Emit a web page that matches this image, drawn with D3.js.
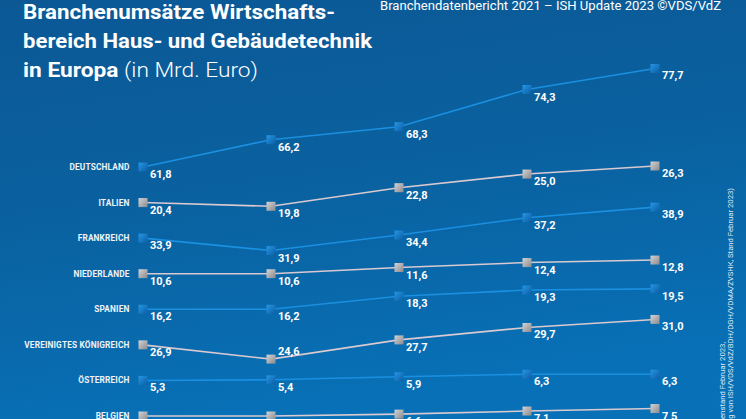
<!DOCTYPE html>
<html><head><meta charset="utf-8">
<script src="https://cdn.jsdelivr.net/npm/d3@7"></script>
<style>html,body{margin:0;padding:0;overflow:hidden;background:#0b5e9e}svg{display:block}</style>
</head><body>
<script>
// ---- data ----
const years = ["2018", "2019", "2020", "2021", "2022"];
const countries = ["Deutschland", "Italien", "Frankreich", "Niederlande", "Spanien", "Vereinigtes Königreich", "Österreich", "Belgien"];
const deutschland = [61.8, 66.2, 68.3, 74.3, 77.7];
const italien = [20.4, 19.8, 22.8, 25.0, 26.3];
const frankreich = [33.9, 31.9, 34.4, 37.2, 38.9];
const niederlande = [10.6, 10.6, 11.6, 12.4, 12.8];
const spanien = [16.2, 16.2, 18.3, 19.3, 19.5];
const vereinigtesKoenigreich = [26.9, 24.6, 27.7, 29.7, 31.0];
const oesterreich = [5.3, 5.4, 5.9, 6.3, 6.3];
const belgien = [6.3, 6.3, 6.6, 7.1, 7.5];
const seriesValues = [deutschland, italien, frankreich, niederlande, spanien, vereinigtesKoenigreich, oesterreich, belgien];

const titleLines = ["Branchenumsätze Wirtschafts-", "bereich Haus- und Gebäudetechnik"];
const titleBold3 = "in Europa";
const titleLight3 = " (in Mrd. Euro)";
const sourceTop = "Branchendatenbericht 2021 – ISH Update 2023 ©VDS/VdZ";
const sideNote1 = "Quelle: VDS/VdZ Branchendatenbericht, Datenstand Februar 2023,";
const sideNote2 = "(Hochrechnung von ISH/VDS/VdZ/BDH/DGH/VDMA/ZVSHK, Stand Februar 2023)";

// ---- setup ----
const W = 746, H = 419;
const svg = d3.select("body").append("svg").attr("width", W).attr("height", H)
  .style("font-family", "Roboto, 'Noto Sans', sans-serif");
const defs = svg.append("defs");

const bg = defs.append("linearGradient").attr("id", "bg").attr("x1", 0).attr("y1", 0).attr("x2", 0.25).attr("y2", 1);
bg.append("stop").attr("offset", 0).attr("stop-color", "#0b5895");
bg.append("stop").attr("offset", 0.5).attr("stop-color", "#0a619f");
bg.append("stop").attr("offset", 1).attr("stop-color", "#0870b6");
svg.append("rect").attr("width", W).attr("height", H).attr("fill", "url(#bg)");

const gb = defs.append("linearGradient").attr("id", "mBlue").attr("x1", 0).attr("y1", 0).attr("x2", 1).attr("y2", 1);
gb.append("stop").attr("offset", 0).attr("stop-color", "#2796e4");
gb.append("stop").attr("offset", 1).attr("stop-color", "#0b5ea6");
const gg = defs.append("linearGradient").attr("id", "mGrey").attr("x1", 0).attr("y1", 0).attr("x2", 1).attr("y2", 1);
gg.append("stop").attr("offset", 0).attr("stop-color", "#d4d4d6");
gg.append("stop").attr("offset", 1).attr("stop-color", "#8a8a8e");

const locale = d3.formatLocale({decimal: ",", thousands: ".", grouping: [3], currency: ["", " €"]});
const fmt = locale.format(".1f");

// scales
const x = d3.scalePoint().domain(years).range([143, 655]);
const rowY = d3.scalePoint().domain(countries).range([167, 416]);
const dy = d3.scaleLinear().domain([0, 10]).range([0, -62]);

const style = i => i % 2 === 0
  ? {line: "#1b8fe0", fill: "url(#mBlue)"}
  : {line: "#d9c9d0", fill: "url(#mGrey)"};

// ---- title ----
const tl = svg.append("g").attr("fill", "#fff");
tl.append("text").attr("x", 23).attr("y", 19).attr("font-size", 21).attr("font-weight", 700)
  .attr("textLength", 312).attr("lengthAdjust", "spacingAndGlyphs").text(titleLines[0]);
tl.append("text").attr("x", 23).attr("y", 48).attr("font-size", 21).attr("font-weight", 700)
  .attr("textLength", 349).attr("lengthAdjust", "spacingAndGlyphs").text(titleLines[1]);
const t3 = tl.append("text").attr("x", 23).attr("y", 77).attr("font-size", 21)
  .attr("textLength", 235).attr("lengthAdjust", "spacingAndGlyphs");
t3.append("tspan").attr("font-weight", 700).text(titleBold3);
t3.append("tspan").attr("font-weight", 300).text(titleLight3);

svg.append("text").attr("x", 380).attr("y", 10).attr("font-size", 12.5).attr("fill", "#fff")
  .attr("textLength", 341).attr("lengthAdjust", "spacingAndGlyphs").text(sourceTop);

// ---- side notes (rotated, partly cut at bottom as in the original) ----
function sideNote(txt, visibleLen, bx, endY, visiblePart) {
  const probe = svg.append("text").attr("font-size", 10).text(visiblePart);
  const w = probe.node().getComputedTextLength();
  probe.remove();
  const fs = 10 * visibleLen / w;
  svg.append("text")
    .attr("transform", `translate(${bx},${endY}) rotate(-90)`)
    .attr("text-anchor", "end").attr("font-size", fs).attr("fill", "#dfe8f2")
    .text(txt);
}
sideNote(sideNote1, 77, 724.5, 342, "enstand Februar 2023,");
sideNote(sideNote2, 231, 733, 188, "g von ISH/VDS/VdZ/BDH/DGH/VDMA/ZVSHK, Stand Februar 2023)");

// ---- rows ----
const ms = 9;
countries.forEach((c, i) => {
  const vals = seriesValues[i];
  const base = rowY(c);
  const pts = vals.map((v, j) => ({v, j, cx: x(years[j]), cy: base + dy(v - vals[0])}));
  const st = style(i);
  const g = svg.append("g");

  g.append("text").attr("x", 129.5).attr("y", base + 3).attr("text-anchor", "end")
    .attr("font-size", 8.3).attr("font-weight", 700).attr("letter-spacing", 0.15)
    .attr("fill", "#eef3f8").text(c.toUpperCase());

  g.append("path").datum(pts)
    .attr("d", d3.line().x(d => d.cx).y(d => d.cy))
    .attr("fill", "none").attr("stroke", st.line).attr("stroke-width", 1.6);

  g.selectAll("rect").data(pts).join("rect")
    .attr("x", d => d.cx - ms / 2).attr("y", d => d.cy - ms / 2)
    .attr("width", ms).attr("height", ms).attr("fill", st.fill);

  g.selectAll("text.val").data(pts).join("text").attr("class", "val")
    .attr("x", d => d.cx + 7)
    .attr("y", d => {
      // a deep dip: put the label above to keep it clear of the rising line
      const prev = vals[d.j - 1], next = vals[d.j + 1];
      const dip = prev !== undefined && next !== undefined && prev - d.v > 2.1 && next - d.v > 2.1;
      return dip ? d.cy - 4 : d.cy + 11;
    })
    .attr("font-size", 11).attr("font-weight", 700).attr("fill", "#fff")
    .text(d => fmt(d.v));
});
</script>
</body></html>
